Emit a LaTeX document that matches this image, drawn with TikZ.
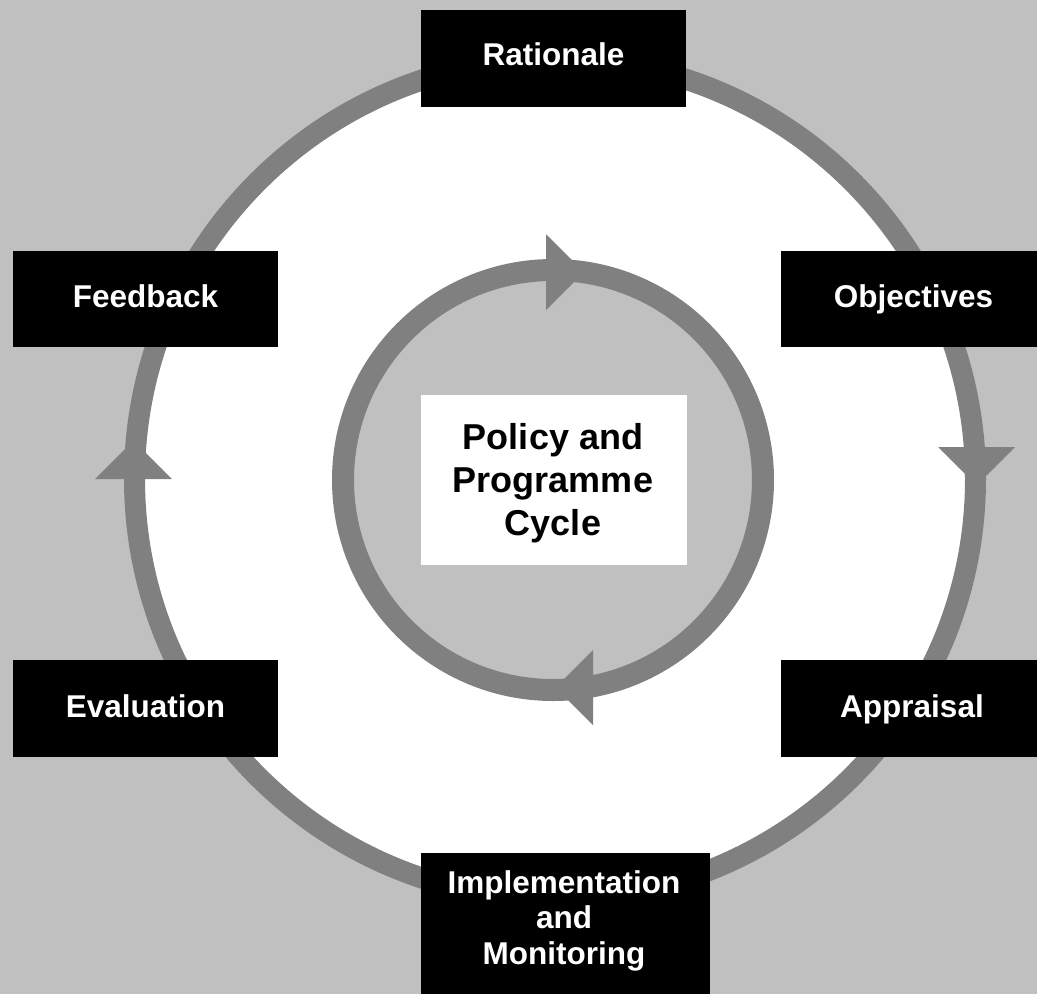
\documentclass[tikz,border=0pt]{standalone}
\usepackage{fontspec}
\setmainfont{Liberation Sans}
\definecolor{bggray}{HTML}{C0C0C0}
\definecolor{ringgray}{HTML}{808080}
\tikzset{
  box/.style={fill=black, draw=none, inner sep=0pt, minimum width=265pt, minimum height=97pt},
  lbl/.style={text=white, font=\fontsize{31.5}{35.5}\selectfont\bfseries, align=center, inner sep=0pt, anchor=base},
  ctr/.style={text=black, font=\fontsize{36}{43}\selectfont\bfseries, align=center, inner sep=0pt, anchor=base},
  ring/.style={draw=ringgray},
  head/.style={fill=ringgray, draw=none}
}
\begin{document}
\begin{tikzpicture}[x=1pt,y=-1pt]
\useasboundingbox (0,0) rectangle (1037,994);
\clip (0,0) rectangle (1037,994);
\fill[bggray] (0,0) rectangle (1037,994);
% outer ring
\fill[white] (555,479) circle[radius=420.5pt];
\draw[ring, line width=21pt] (555,479) circle[radius=420.5pt];
\fill[head] (95,479) -- (172,479) -- (133.5,440.5) -- cycle;
\fill[head] (938,447) -- (1015,447) -- (976.5,485.5) -- cycle;
% inner ring
\fill[bggray] (553,480) circle[radius=210pt];
\draw[ring, line width=22pt] (553,480) circle[radius=210pt];
\fill[head] (546,234) -- (546,310) -- (584,272) -- cycle;
\fill[head] (593,650) -- (593,725) -- (555.5,687.5) -- cycle;
% boxes
\node[box] (rat) at (553.5,58.5) {};
\node[box, minimum height=96pt] (feed) at (145.5,299) {};
\node[box, minimum height=96pt] (obj) at (913.5,299) {};
\node[box] (eval) at (145.5,708.5) {};
\node[box] (appr) at (913.5,708.5) {};
\node[box, minimum width=289pt, minimum height=160pt] (impl) at (565.5,933) {};
\node[fill=white, inner sep=0pt, minimum width=266pt, minimum height=170pt] (centre) at (554,480) {};
% labels
\node[lbl] (ratT) at (553.5,65) {Rationale};
\node[lbl] (feedT) at (145.5,307) {Feedback};
\node[lbl] (objT) at (913.5,307) {Objectives};
\node[lbl] (evalT) at (145.5,717) {Evaluation};
\node[lbl] (apprT) at (912,717) {Appraisal};
\node[lbl] (implT) at (564,964) {Implementation\\and\\Monitoring};
\node[ctr] (centreT) at (553,535) {Policy and\\Programme\\Cycle};
\end{tikzpicture}
\end{document}
